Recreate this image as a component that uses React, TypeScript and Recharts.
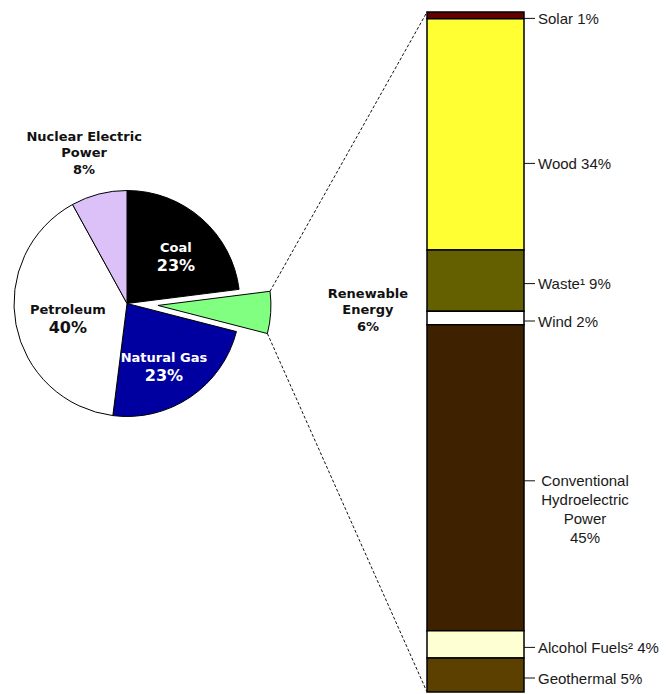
import { Bar, BarChart, Cell, Pie, PieChart, XAxis, YAxis } from "recharts";

const W = 669;
const H = 694;

// energy sources, clockwise from 12 o'clock
const sources = ["Coal", "Renewable Energy", "Natural Gas", "Petroleum", "Nuclear Electric Power"];
const sourceShares = [23, 6, 23, 40, 8];
const sourceColors = ["#000000", "#80ff80", "#0000a0", "#ffffff", "#dcc0f8"];

// renewable breakdown, top to bottom
const renewables = ["Solar", "Wood", "Waste¹", "Wind", "Conventional Hydroelectric Power", "Alcohol Fuels²", "Geothermal"];
const renewableShares = [1, 34, 9, 2, 45, 4, 5];
const renewableColors = ["#640000", "#ffff33", "#646000", "#ffffff", "#3e2200", "#ffffd4", "#5c4000"];

const pieData = sources.map((name, i) => ({ name, value: sourceShares[i] }));
const barRow: Record<string, number | string> = { name: "Renewable" };
renewables.forEach((r, i) => (barRow[r] = renewableShares[i]));
const barData = [barRow];

const pie = { cx: 127, cy: 303.5, r: 113, explode: 31 };
const bar = { left: 427, top: 12, width: 97, bottom: 692 };
const RAD = Math.PI / 180;

const pieLines: Record<string, string[]> = {
  "Nuclear Electric Power": ["Nuclear Electric", "Power"],
  "Renewable Energy": ["Renewable", "Energy"],
};
const pieLabelRadius: Record<string, number> = {
  Coal: 68,
  "Natural Gas": 73,
  Petroleum: 61,
  "Nuclear Electric Power": 156.5,
  "Renewable Energy": 241,
};
const pieLabelTurn: Record<string, number> = {
  Coal: -4.6,
  "Natural Gas": -3.8,
  Petroleum: 3.5,
  "Nuclear Electric Power": 1.5,
  "Renewable Energy": 2.1,
};
const whiteText = ["Coal", "Natural Gas"];
const outsideLabel = ["Nuclear Electric Power", "Renewable Energy"];

// angles of the renewable slice
const total = sourceShares.reduce((a, b) => a + b, 0);
const renStart = 90 - (sourceShares[0] / total) * 360;
const renEnd = renStart - (sourceShares[1] / total) * 360;
const renMid = (renStart + renEnd) / 2;
const exCx = pie.cx + pie.explode * Math.cos(renMid * RAD);
const exCy = pie.cy - pie.explode * Math.sin(renMid * RAD);

function PieLabel(props: any) {
  const { cx, cy, midAngle, name, value } = props;
  const rr = pieLabelRadius[name] ?? 60;
  const a = (midAngle + (pieLabelTurn[name] ?? 0)) * RAD;
  const x = cx + rr * Math.cos(a);
  const y = cy - rr * Math.sin(a);
  const outside = outsideLabel.includes(name);
  const lines = [...(pieLines[name] ?? [name]), `${value}%`];
  const lh = outside ? 16.5 : 17.5;
  const fill = whiteText.includes(name) ? "#ffffff" : "#111111";
  return (
    <text
      x={x}
      y={y}
      textAnchor="middle"
      fill={fill}
      fontFamily="DejaVu Sans, Verdana, sans-serif"
      fontWeight="bold"
    >
      {lines.map((l, i) => (
        <tspan
          key={i}
          x={x}
          y={y - ((lines.length - 1) * lh) / 2 + i * lh}
          dominantBaseline="central"
          fontSize={i === lines.length - 1 && !outside ? 16 : 13}
        >
          {l}
        </tspan>
      ))}
    </text>
  );
}

const segLabelNudge: Record<string, number> = { Wood: 26 };
const multiLine: Record<string, string[]> = {
  "Conventional Hydroelectric Power": ["Conventional", "Hydroelectric", "Power"],
};

function segLabel(idx: number) {
  const name = renewables[idx];
  const pct = renewableShares[idx];
  return (props: any) => {
    const { x, y, width, height } = props;
    const top = Math.min(y, y + height);
    const h = Math.abs(height);
    const ty = top + h / 2 + 3 + (segLabelNudge[name] ?? 0);
    const x0 = x + width;
    const font = "Liberation Sans, Arial, sans-serif";
    if (multiLine[name]) {
      const lines = [...multiLine[name], `${pct}%`];
      return (
        <g>
          <line x1={x0} y1={ty} x2={x0 + 11} y2={ty} stroke="#111" strokeWidth={1} />
          <text x={585} y={ty} textAnchor="middle" fontFamily={font} fontSize={15} fill="#1a1a1a">
            {lines.map((l, i) => (
              <tspan key={i} x={585} y={ty + i * 19} dominantBaseline="central">
                {l}
              </tspan>
            ))}
          </text>
        </g>
      );
    }
    return (
      <g>
        <line x1={x0} y1={ty} x2={x0 + 11} y2={ty} stroke="#111" strokeWidth={1} />
        <text x={x0 + 14} y={ty} dominantBaseline="central" fontFamily={font} fontSize={15} fill="#1a1a1a">
          {`${name} ${pct}%`}
        </text>
      </g>
    );
  };
}

export default function App() {
  const c1x = exCx + pie.r * Math.cos(renStart * RAD);
  const c1y = exCy - pie.r * Math.sin(renStart * RAD);
  const c2x = exCx + pie.r * Math.cos(renEnd * RAD);
  const c2y = exCy - pie.r * Math.sin(renEnd * RAD);

  return (
    <div style={{ position: "absolute", left: 0, top: 0, width: W, height: H, background: "#fff" }}>
      <div style={{ position: "absolute", left: 0, top: 0 }}>
        <PieChart width={W} height={H} margin={{ top: 0, right: 0, bottom: 0, left: 0 }}>
          <Pie
            data={pieData}
            dataKey="value"
            nameKey="name"
            cx={pie.cx}
            cy={pie.cy}
            outerRadius={pie.r}
            startAngle={90}
            endAngle={-270}
            label={PieLabel}
            labelLine={false}
            isAnimationActive={false}
          >
            {pieData.map((d, i) => (
              <Cell
                key={d.name}
                fill={i === 1 ? "none" : sourceColors[i]}
                stroke={i === 1 ? "none" : "#000"}
                strokeWidth={1}
              />
            ))}
          </Pie>
          <Pie
            data={pieData}
            dataKey="value"
            nameKey="name"
            cx={exCx}
            cy={exCy}
            outerRadius={pie.r}
            startAngle={90}
            endAngle={-270}
            isAnimationActive={false}
          >
            {pieData.map((d, i) => (
              <Cell
                key={d.name}
                fill={i === 1 ? sourceColors[i] : "none"}
                stroke={i === 1 ? "#000" : "none"}
                strokeWidth={1}
              />
            ))}
          </Pie>
        </PieChart>
      </div>
      <div style={{ position: "absolute", left: 0, top: 0 }}>
        <BarChart
          width={W}
          height={H}
          data={barData}
          barCategoryGap={0}
          margin={{ top: bar.top, left: bar.left, right: W - bar.left - bar.width, bottom: H - bar.bottom }}
        >
          <XAxis dataKey="name" hide />
          <YAxis type="number" domain={[0, 100]} reversed hide />
          {renewables.map((r, i) => (
            <Bar
              key={r}
              dataKey={r}
              stackId="ren"
              fill={renewableColors[i]}
              stroke="#000"
              strokeWidth={1.5}
              label={segLabel(i)}
              isAnimationActive={false}
            />
          ))}
        </BarChart>
      </div>
      <svg width={W} height={H} style={{ position: "absolute", left: 0, top: 0, pointerEvents: "none" }}>
        <line x1={c1x} y1={c1y} x2={bar.left} y2={bar.top} stroke="#111" strokeWidth={1} strokeDasharray="3 2" />
        <line x1={c2x} y1={c2y} x2={bar.left} y2={bar.bottom} stroke="#111" strokeWidth={1} strokeDasharray="3 2" />
      </svg>
    </div>
  );
}
